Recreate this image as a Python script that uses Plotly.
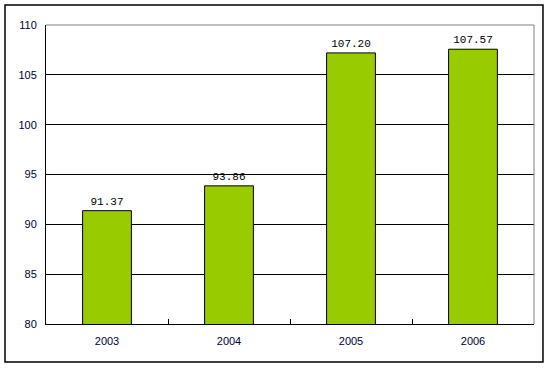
import plotly.graph_objects as go

years = ["2003", "2004", "2005", "2006"]
values = [91.37, 93.86, 107.20, 107.57]
labels = ["91.37", "93.86", "107.20", "107.57"]
y_ticks = [80, 85, 90, 95, 100, 105, 110]

fig = go.Figure(go.Bar(
    x=years, y=values, text=labels, textposition="outside",
    textfont=dict(family="Liberation Mono, DejaVu Sans Mono", size=11, color="#000000"),
    marker=dict(color="#99CC00", line=dict(color="#000000", width=1)),
    width=0.4, cliponaxis=False,
))

fig.update_layout(
    width=551, height=368,
    margin=dict(l=46, r=17, t=25, b=44),
    paper_bgcolor="white", plot_bgcolor="white",
    showlegend=False,
    font=dict(family="Liberation Sans, DejaVu Sans", size=11, color="#000033"),
)
fig.update_xaxes(
    type="category", showline=True, linecolor="#000000", linewidth=1,
    ticks="inside", tickson="boundaries", ticklen=5, tickcolor="#000000",
    showgrid=False, tickfont=dict(size=11), ticklabelstandoff=7,
)
fig.update_yaxes(
    range=[80, 110], tickvals=y_ticks, showline=True, linecolor="#000000", linewidth=1,
    showgrid=True, gridcolor="#000000", gridwidth=1, ticks="", zeroline=False,
    tickfont=dict(size=11), ticklabelstandoff=6,
)
# plot area top/right grey border
fig.add_shape(type="line", xref="paper", yref="paper", x0=0, x1=1, y0=1, y1=1,
              line=dict(color="#808080", width=1))
fig.add_shape(type="line", xref="paper", yref="paper", x0=1, x1=1, y0=0, y1=1,
              line=dict(color="#808080", width=1))
# outer chart border
fig.add_shape(type="rect", xref="paper", yref="paper",
              x0=-0.084, x1=1.0184, y0=-0.127, y1=1.067,
              line=dict(color="#000000", width=1.5), layer="below")

fig.write_html("out.html", config={"displayModeBar": False},
               post_script="document.body.style.margin='0';document.body.style.overflow='hidden';")
